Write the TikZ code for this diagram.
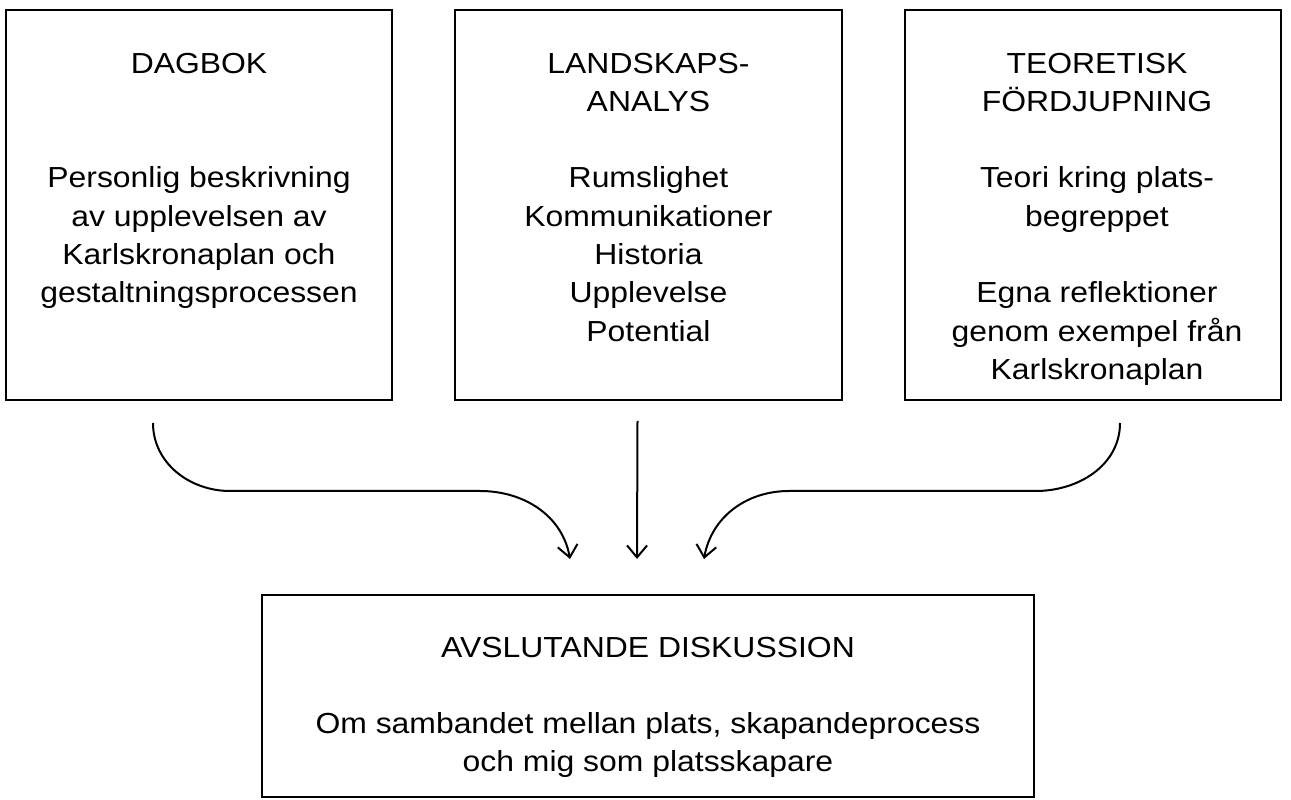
\documentclass[tikz,border=0pt]{standalone}
\usepackage{fontspec}
\setmainfont{Liberation Sans}[FakeStretch=1.1]
\usetikzlibrary{positioning,arrows.meta,calc}

\begin{document}
\begin{tikzpicture}[x=1pt, y=1pt,
block/.style = {rectangle, draw=black, line width=2pt, outer sep=0pt, minimum height=390pt},
txt/.style = {align=center, inner sep=0pt, outer sep=0pt, font=\fontsize{29}{38.3}\selectfont},
flow/.style = {-{Straight Barb[length=12pt, width=20pt]}, line width=2pt}]
\useasboundingbox (0,0) rectangle (1291,800);
\node[block, minimum width=386pt] at (199,595) (dag) {};
\node[block, minimum width=387pt] at (648.5,595) (ana) {};
\node[block, minimum width=376pt] at (1093,595) (teo) {};
\node[block, minimum width=772pt, minimum height=202pt] at (648,104) (disk) {};
\node[txt, below=36.2pt of dag.north] (dagtxt) {\strut DAGBOK\\[2\baselineskip]Personlig beskrivning\\av upplevelsen av\\Karlskronaplan och\\gestaltningsprocessen};
\node[txt, below=36.2pt of ana.north] (anatxt) {\strut LANDSKAPS-\\ANALYS\\[\baselineskip]Rumslighet\\Kommunikationer\\Historia\\Upplevelse\\Potential};
\node[txt, below=36.2pt of teo.north, xshift=4pt] (teotxt) {\strut TEORETISK\\FÖRDJUPNING\\[\baselineskip]Teori kring plats-\\begreppet\\[\baselineskip]Egna reflektioner\\genom exempel från\\Karlskronaplan};
\node[txt, below=35.2pt of disk.north] (disktxt) {\strut AVSLUTANDE DISKUSSION\\[\baselineskip]Om sambandet mellan plats, skapandeprocess\\och mig som platsskapare};
\coordinate (l0) at ($(dag.south)+(-46,-23)$);
\coordinate (l1) at ($(disk.north)+(-78,36)$);
\coordinate (r0) at ($(teo.south)+(27,-23)$);
\coordinate (r1) at ($(disk.north)+(56,36)$);
\draw [flow] (l0) to[out=-90, in=180] ($(l0)+(77,-68)$) -- ($(l1)+(-90,68)$) to[out=0, in=100] (l1);
\draw [flow] ($(ana.south)+(-11,-21)$) -- ($(disk.north)+(-11,36)$);
\draw [flow] (r0) to[out=-90, in=0] ($(r0)+(-84,-68)$) -- ($(r1)+(85,68)$) to[out=180, in=80] (r1);
\end{tikzpicture}
\end{document}
